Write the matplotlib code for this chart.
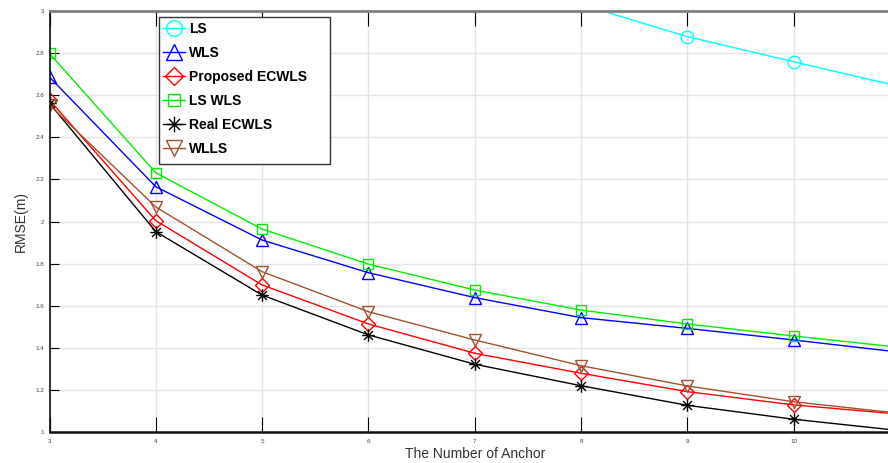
import matplotlib
matplotlib.use("Agg")
import matplotlib.pyplot as plt
from matplotlib.path import Path
from matplotlib.patches import Rectangle
import numpy as np

anchors = [3, 4, 5, 6, 7, 8, 9, 10, 11]
ls_rmse = [4.50, 3.80, 3.45, 3.25, 3.13, 3.03, 2.877, 2.758, 2.64]
wls_rmse = [2.685, 2.165, 1.912, 1.757, 1.639, 1.544, 1.493, 1.438, 1.380]
ecwls_rmse = [2.576, 2.004, 1.699, 1.514, 1.375, 1.280, 1.193, 1.130, 1.086]
lswls_rmse = [2.797, 2.231, 1.964, 1.798, 1.675, 1.580, 1.514, 1.457, 1.403]
real_rmse = [2.561, 1.952, 1.651, 1.462, 1.323, 1.221, 1.128, 1.062, 1.008]
wlls_rmse = [2.553, 2.069, 1.762, 1.572, 1.438, 1.316, 1.220, 1.145, 1.090]
xtick_labels = ["3", "4", "5", "6", "7", "8", "9", "10"]

# MATLAB-like asterisk marker (8 spokes)
verts, codes = [], []
for a in np.arange(0, np.pi, np.pi / 4):
    verts += [(-np.cos(a), -np.sin(a)), (np.cos(a), np.sin(a))]
    codes += [Path.MOVETO, Path.LINETO]
asterisk = Path(verts, codes)

series = [
    ("LS", ls_rmse, "#00ffff", "o", 9),
    ("WLS", wls_rmse, "#0000ff", "^", 9),
    ("Proposed ECWLS", ecwls_rmse, "#ff0000", "D", 7),
    ("LS WLS", lswls_rmse, "#00ee00", "s", 7),
    ("Real ECWLS", real_rmse, "#000000", asterisk, 9),
    ("WLLS", wlls_rmse, "#a0522d", "v", 9),
]

plt.rcParams['font.family'] = ['Liberation Sans', 'DejaVu Sans']

fig = plt.figure(figsize=(8.88, 4.63), dpi=100)
ax = fig.add_axes([49.5/888, 1-432.3/463, 850.4/888, 421.6/463])

for name, vals, col, mk, ms in series:
    ax.plot(anchors, vals, color=col, lw=1.0, marker=mk, markersize=ms,
            markerfacecolor='none', markeredgecolor=col, markeredgewidth=1.0, label=name)

ax.set_xlim(3, 11)
ax.set_ylim(1, 3)
ax.set_xticks(anchors[:-1])
ax.set_xticklabels(xtick_labels)
ax.set_yticks([1, 1.2, 1.4, 1.6, 1.8, 2, 2.2, 2.4, 2.6, 2.8, 3])
ax.set_yticklabels(["1", "1.2", "1.4", "1.6", "1.8", "2", "2.2", "2.4", "2.6", "2.8", "3"])
ax.grid(True, color='#e4e4e4', lw=1.0)
ax.set_axisbelow(True)

ax.tick_params(axis='both', labelsize=4.5, labelcolor='#444444', direction='in')
ax.tick_params(axis='x', length=10.5, width=0.8, top=True, pad=5)
ax.tick_params(axis='y', length=6.5, width=0.8, right=True, pad=4)
for t in ax.xaxis.get_major_ticks() + ax.yaxis.get_major_ticks():
    t.tick2line.set_color('#808080')

for s in ['left', 'bottom']:
    ax.spines[s].set_color('#111111')
ax.spines['left'].set_linewidth(1.2)
ax.spines['bottom'].set_linewidth(1.8)
ax.spines['top'].set_color('#808080')
ax.spines['top'].set_linewidth(2.0)
ax.spines['right'].set_color('#808080')

ax.set_xlabel("The Number of Anchor", fontsize=10, color='#333333', labelpad=2)
ax.set_ylabel("RMSE(m)", fontsize=10, color='#333333', labelpad=5)

box = Rectangle((159/888, 1-164/463), (330-159)/888, (164-16.7)/463,
                transform=fig.transFigure, facecolor='white',
                edgecolor='#333333', lw=1.0, zorder=4, clip_on=False)
ax.add_patch(box)
leg = ax.legend(loc='upper left', bbox_to_anchor=(159/888, 1-18/463),
                bbox_transform=fig.transFigure, borderaxespad=0,
                prop={'weight': 'bold', 'size': 10}, frameon=False,
                handlelength=1.6, labelspacing=0.72, markerscale=1.25,
                handletextpad=0.25, borderpad=0.3)
leg.set_zorder(6)

fig.savefig("out.png", dpi=100)
